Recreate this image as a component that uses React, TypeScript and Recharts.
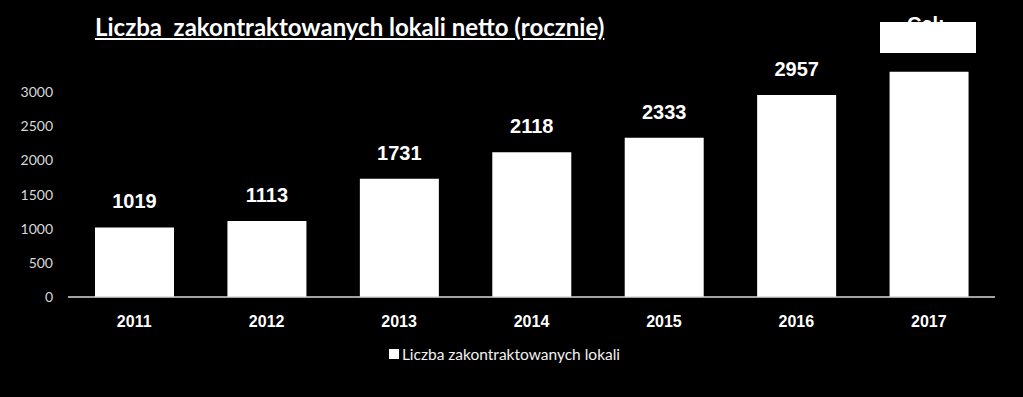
import { Bar, BarChart, LabelList, Legend, XAxis, YAxis } from "recharts"

const years = ["2011", "2012", "2013", "2014", "2015", "2016", "2017"]
const contracted = [1019, 1113, 1731, 2118, 2333, 2957, 3300]
const yTicks = [0, 500, 1000, 1500, 2000, 2500, 3000]

const data = years.map((year, i) => ({ year, value: contracted[i] }))

const TITLE = "Liczba  zakontraktowanych lokali netto (rocznie)"
const SERIES = "Liczba zakontraktowanych lokali"

function LegendBox() {
  return (
    <div
      style={{
        display: "flex",
        justifyContent: "center",
        alignItems: "center",
        fontFamily: "Lato, 'Open Sans', sans-serif",
        fontSize: 15.5,
        color: "#f2f2f2",
        paddingLeft: 14,
      }}
    >
      <span style={{ width: 10, height: 10, background: "#fff", marginRight: 3 }} />
      {SERIES}
    </div>
  )
}

export default function App() {
  return (
    <div style={{ position: "relative", width: 1023, height: 397, background: "#000", overflow: "hidden" }}>
      <style>{"body{margin:0;background:#000}"}</style>
      <div
        style={{
          position: "absolute",
          left: 95,
          top: 12,
          fontFamily: "Lato, 'Open Sans', sans-serif",
          fontWeight: 700,
          fontSize: 24,
          color: "#fff",
          textDecoration: "underline",
          whiteSpace: "pre",
        }}
      >
        {TITLE}
      </div>
      <BarChart
        width={1023}
        height={397}
        data={data}
        margin={{ top: 58, right: 28, left: 0, bottom: 0 }}
        barSize={79}
      >
        <YAxis
          domain={[0, 3500]}
          ticks={yTicks}
          width={68}
          axisLine={false}
          tickLine={false}
          tickSize={0}
          tickMargin={15}
          tick={{ fill: "#d9d9d9", fontSize: 14, fontFamily: "Lato, 'Open Sans', sans-serif" }}
        />
        <XAxis
          dataKey="year"
          height={46}
          axisLine={{ stroke: "#d9d9d9", strokeWidth: 1.5 }}
          tickLine={false}
          tickSize={0}
          tickMargin={19}
          tick={{ fill: "#fff", fontSize: 16, fontWeight: 700, fontFamily: "'Liberation Sans', Arial, sans-serif" }}
        />
        <Legend verticalAlign="bottom" height={54} wrapperStyle={{ top: 345 }} content={<LegendBox />} />
        <Bar dataKey="value" fill="#fff" isAnimationActive={false}>
          <LabelList
            dataKey="value"
            position="top"
            offset={19}
            style={{ fill: "#fff", fontSize: 20, fontWeight: 700, fontFamily: "'Liberation Sans', Arial, sans-serif" }}
          />
        </Bar>
      </BarChart>
      <div
        style={{
          position: "absolute",
          left: 907,
          top: 13,
          fontFamily: "'Liberation Sans', Arial, sans-serif",
          fontSize: 20,
          fontWeight: 700,
          color: "#fff",
        }}
      >
        Cel:
      </div>
      <div style={{ position: "absolute", left: 880, top: 22, width: 96, height: 31, background: "#fff" }} />
    </div>
  )
}
